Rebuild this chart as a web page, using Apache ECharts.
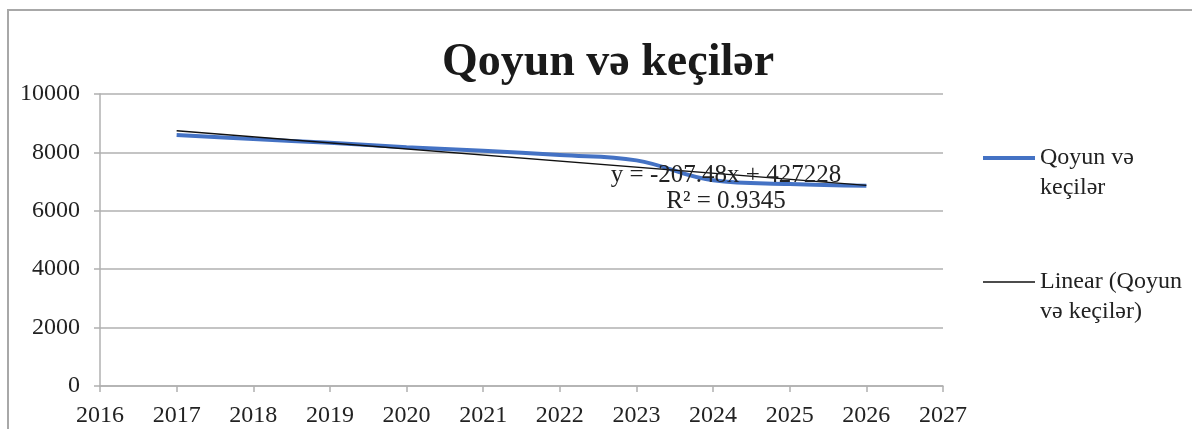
<!DOCTYPE html>
<html>
<head>
<meta charset="utf-8">
<script src="https://cdn.jsdelivr.net/npm/echarts@6/dist/echarts.min.js"></script>
<style>
  html, body { margin: 0; padding: 0; background: #fff; }
  #chart { width: 1192px; height: 429px; }
</style>
</head>
<body>
<div id="chart"></div>
<script>
// ---- data ----
const titleText = 'Qoyun və keçilər';
const seriesName = 'Qoyun və keçilər';
const trendName = 'Linear (Qoyun və keçilər)';
const years = [2017, 2018, 2019, 2020, 2021, 2022, 2023, 2024, 2025, 2026];
const values = [8595, 8458, 8327, 8177, 8057, 7910, 7727, 7047, 6917, 6857];
const trendYears = [2017, 2026];
const trendValues = [8741, 6874];
const equationText = 'y = -207.48x + 427228';
const r2Text = 'R² = 0.9345';
const legendLines1 = ['Qoyun və', 'keçilər'];
const legendLines2 = ['Linear (Qoyun', 'və keçilər)'];
const yTicks = [0, 2000, 4000, 6000, 8000, 10000];
const xTicks = [2016, 2017, 2018, 2019, 2020, 2021, 2022, 2023, 2024, 2025, 2026, 2027];

const serif = '"Liberation Serif", "DejaVu Serif", serif';
const chart = echarts.init(document.getElementById('chart'), null, { renderer: 'canvas' });

const option = {
  backgroundColor: '#ffffff',
  animation: false,
  title: {
    text: titleText,
    left: 603,
    top: 35,
    textAlign: 'center',
    textStyle: { fontFamily: serif, fontWeight: 'bold', fontSize: 46, color: '#1a1a1a' }
  },
  grid: { left: 100, right: 249, top: 94, bottom: 43, containLabel: false },
  xAxis: {
    type: 'value',
    min: xTicks[0],
    max: xTicks[xTicks.length - 1],
    interval: 1,
    axisLine: { show: true, lineStyle: { color: '#b0b0b0', width: 1.5 } },
    axisTick: { show: true, length: 6, lineStyle: { color: '#b0b0b0', width: 1.5 } },
    splitLine: { show: false },
    axisLabel: { fontFamily: serif, fontSize: 24, color: '#222', margin: 18, formatter: v => String(v) }
  },
  yAxis: {
    type: 'value',
    min: yTicks[0],
    max: yTicks[yTicks.length - 1],
    interval: 2000,
    axisLine: { show: true, lineStyle: { color: '#b0b0b0', width: 1.5 } },
    axisTick: { show: true, length: 6, lineStyle: { color: '#b0b0b0', width: 1.5 } },
    splitLine: { show: true, lineStyle: { color: '#b0b0b0', width: 1.5 } },
    axisLabel: { fontFamily: serif, fontSize: 24, color: '#222', margin: 20, formatter: v => String(v) }
  },
  legend: [
    {
      data: [{ name: seriesName, icon: 'rect' }],
      orient: 'vertical',
      left: 983,
      top: 113,
      padding: 0,
      itemWidth: 52,
      itemHeight: 4,
      formatter: () => '\n' + legendLines1.join('\n'),
      textStyle: { fontFamily: serif, fontSize: 24, color: '#222', lineHeight: 30 }
    },
    {
      data: [{ name: trendName, icon: 'rect' }],
      orient: 'vertical',
      left: 983,
      top: 237,
      padding: 0,
      itemWidth: 52,
      itemHeight: 1.5,
      formatter: () => '\n' + legendLines2.join('\n'),
      textStyle: { fontFamily: serif, fontSize: 24, color: '#222', lineHeight: 30 }
    }
  ],
  graphic: [
    {
      type: 'rect',
      shape: { x: 8, y: 10, width: 1400, height: 600 },
      style: { fill: 'none', stroke: '#a8a8a8', lineWidth: 2 },
      silent: true, z: -1
    },
    {
      type: 'text',
      x: 726, y: 175,
      style: { text: equationText, fontFamily: serif, fontSize: 25, fill: '#222', align: 'center', verticalAlign: 'middle' },
      z: 10
    },
    {
      type: 'text',
      x: 726, y: 201,
      style: { text: r2Text, fontFamily: serif, fontSize: 25, fill: '#222', align: 'center', verticalAlign: 'middle' },
      z: 10
    }
  ],
  series: [
    {
      name: seriesName,
      type: 'line',
      data: years.map((y, i) => [y, values[i]]),
      smooth: 0.4,
      showSymbol: false,
      symbol: 'none',
      lineStyle: { color: '#4472c4', width: 4 },
      itemStyle: { color: '#4472c4' },
      z: 2
    },
    {
      name: trendName,
      type: 'line',
      data: trendYears.map((y, i) => [y, trendValues[i]]),
      showSymbol: false,
      symbol: 'none',
      lineStyle: { color: '#111', width: 1.3 },
      itemStyle: { color: '#111' },
      z: 3
    }
  ]
};
chart.setOption(option);
</script>
</body>
</html>
